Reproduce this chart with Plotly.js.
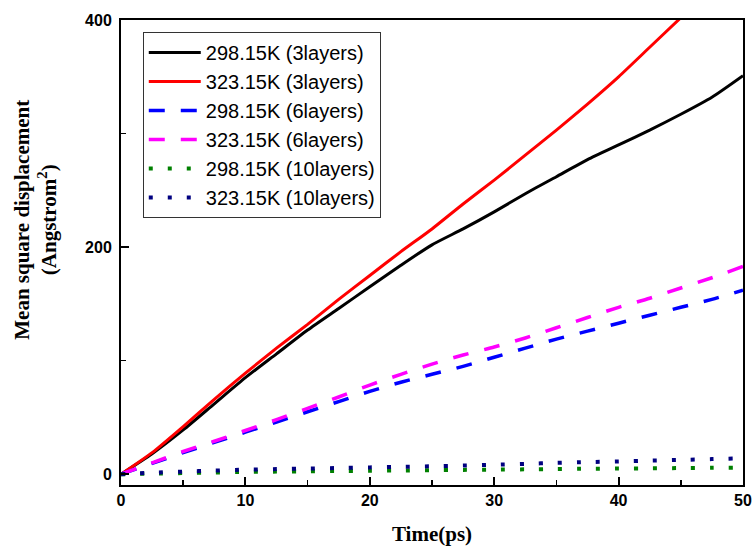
<!DOCTYPE html>
<html>
<head>
<meta charset="utf-8">
<script src="https://cdn.plot.ly/plotly-3.0.1.min.js"></script>
<style>html,body{margin:0;padding:0;background:#fff;}#chart{width:754px;height:546px;}</style>
</head>
<body>
<div id="chart"></div>
<script>
// Time (ps)
var time = [0, 2.5, 5, 7.5, 10, 12.5, 15, 17.5, 20, 22.5, 25, 27.5, 30, 32.5, 35, 37.5, 40, 42.5, 45, 47.5, 50];

// Mean square displacement (Angstrom^2)
var k298_3layers  = [0, 18, 39, 62, 85, 106, 127, 146, 165, 184, 202, 216, 231, 247, 262, 277, 290, 303, 317, 332, 351];
var k323_3layers  = [0, 19, 42, 66, 89, 111, 132, 154, 175, 196, 216, 238, 259, 281, 303, 326, 350, 376, 402, 427, 452];
var k298_6layers  = [0, 9.5, 19, 28, 37, 46, 55, 64, 73, 81, 88, 95, 103, 111, 119, 126, 133, 140, 147, 154, 162];
var k323_6layers  = [0, 10, 20, 29, 38.5, 48, 58, 68, 78.5, 88, 97, 105, 112, 120, 129, 138, 147, 155, 164, 173, 183];
var k298_10layers = [0, 0.5, 1, 1.5, 2, 2.3, 2.5, 2.8, 3, 3.3, 3.5, 3.8, 4, 4.3, 4.6, 4.8, 5, 5.2, 5.4, 5.6, 5.8];
var k323_10layers = [0, 1.3, 2.3, 3.2, 4, 4.5, 5, 5.5, 6, 6.5, 7, 7.6, 8.3, 9.1, 10, 10.7, 11.3, 12, 12.6, 13.3, 14];

var seriesNames = ["298.15K (3layers)", "323.15K (3layers)", "298.15K (6layers)", "323.15K (6layers)", "298.15K (10layers)", "323.15K (10layers)"];

var styles = [
  {color: "#000000", width: 3, dash: "solid"},
  {color: "#FF0000", width: 3, dash: "solid"},
  {color: "#0000FF", width: 3.5, dash: "16px,16px"},
  {color: "#FF00FF", width: 3.5, dash: "16px,16px"},
  {color: "#008000", width: 4, dash: "4px,15px"},
  {color: "#000080", width: 4, dash: "4px,15px"}
];
var values = [k298_3layers, k323_3layers, k298_6layers, k323_6layers, k298_10layers, k323_10layers];

var traces = values.map(function (v, i) {
  return {
    x: time, y: v, type: "scatter", mode: "lines", name: seriesNames[i],
    line: {color: styles[i].color, width: styles[i].width, dash: styles[i].dash, shape: "spline", smoothing: 0.6}
  };
});

var tickFont = {family: "Liberation Sans, Arial, sans-serif", size: 16, color: "#000", weight: "bold"};
var titleFont = {family: "Liberation Serif, Times New Roman, serif", size: 21, color: "#000", weight: "bold"};

var layout = {
  width: 754, height: 546,
  margin: {l: 121, r: 11, t: 20, b: 61},
  paper_bgcolor: "#fff", plot_bgcolor: "#fff",
  showlegend: true,
  legend: {
    x: 0.035, y: 0.974, xanchor: "left", yanchor: "top",
    bgcolor: "#fff", bordercolor: "#333", borderwidth: 1,
    font: {family: "Liberation Sans, Arial, sans-serif", size: 20, color: "#000"},
    itemwidth: 52, tracegroupgap: 0
  },
  xaxis: {
    range: [0, 50], dtick: 10, tick0: 0,
    showgrid: false, zeroline: false,
    showline: true, linecolor: "#000", linewidth: 2, mirror: true,
    ticks: "inside", ticklen: 8, tickwidth: 2, tickcolor: "#000",
    minor: {dtick: 5, ticks: "inside", ticklen: 5, tickwidth: 1.5, tickcolor: "#000", showgrid: false},
    tickfont: tickFont,
    title: {text: "Time(ps)", font: titleFont, standoff: 25}
  },
  yaxis: {
    range: [-9.5, 400], dtick: 200, tick0: 0,
    showgrid: false, zeroline: false,
    showline: true, linecolor: "#000", linewidth: 2, mirror: true,
    ticks: "inside", ticklen: 8, tickwidth: 2, tickcolor: "#000",
    minor: {dtick: 100, ticks: "inside", ticklen: 5, tickwidth: 1.5, tickcolor: "#000", showgrid: false},
    tickfont: tickFont, ticklabelstandoff: 4
  },
  annotations: [{
    text: "Mean square displacement<br>(Angstrom<sup>2</sup>)",
    xref: "paper", yref: "paper", x: -0.137, y: 0.57,
    xanchor: "center", yanchor: "middle", textangle: -90,
    showarrow: false, font: titleFont
  }]
};

Plotly.newPlot("chart", traces, layout, {displayModeBar: false, staticPlot: true});
</script>
</body>
</html>
